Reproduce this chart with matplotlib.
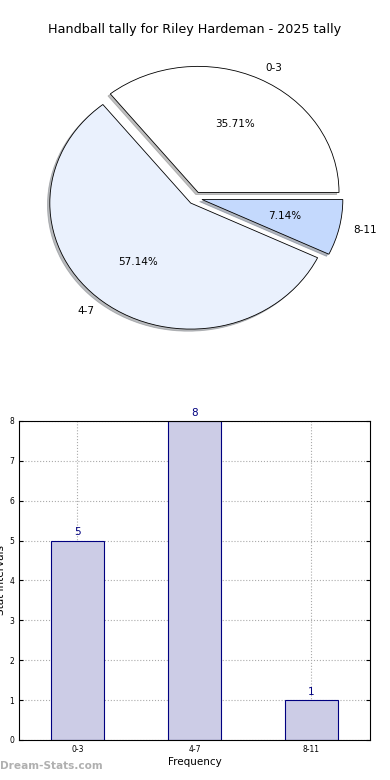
import matplotlib
matplotlib.use("Agg")
import matplotlib.pyplot as plt

# data
labels = ["0-3", "4-7", "8-11"]
counts = [5, 8, 1]
pie_colors = ["#ffffff", "#eaf1fd", "#c4d9fd"]

fig = plt.figure(figsize=(3.9, 7.8), dpi=100)

# ── pie ──
ax1 = fig.add_axes([0.0487, 0.544, 0.903, 0.404])
ax1.pie(counts, labels=labels, colors=pie_colors, autopct="%.2f%%",
        startangle=0, explode=[0.05] * len(counts),
        shadow={"ox": -0.012, "oy": -0.012, "shade": 0.5},
        wedgeprops={"edgecolor": "black", "linewidth": 0.6},
        textprops={"fontsize": 7.5})
ax1.set_aspect("auto")
ax1.set_xlim(-1.25, 1.25)
ax1.set_ylim(-1.25, 1.25)
fig.text(0.5, 0.962, "Handball tally for Riley Hardeman - 2025 tally",
         ha="center", va="center", fontsize=9.2)

# ── bars ──
ax2 = fig.add_axes([0.0487, 0.0513, 0.9, 0.409])
x = range(len(labels))
ax2.bar(x, counts, width=0.45, color="#ccccE6", edgecolor="navy",
        linewidth=0.8, zorder=2)
for xi, c in zip(x, counts):
    ax2.text(xi, c + 0.08, str(c), ha="center", va="bottom",
             color="navy", fontsize=7.5)
ax2.set_xlim(-0.5, 2.5)
ax2.set_ylim(0, 8)
ax2.set_xticks(list(x))
ax2.set_xticklabels(labels)
ax2.set_yticks(range(0, 9))
ax2.tick_params(labelsize=5.5, direction="in", length=3, right=True, top=False)
ax2.grid(True, linestyle=":", color="#aaaaaa", linewidth=0.8, zorder=0)
ax2.set_axisbelow(True)
ax2.set_xlabel("Frequency", fontsize=7.5, labelpad=2)
ax2.set_ylabel("Stat Intervals", fontsize=7.5, labelpad=2)

fig.text(0.0, 0.012, "Dream-Stats.com", color="#b0b0b0", fontsize=7.6,
         fontweight="bold", ha="left", va="bottom")

fig.savefig("out.png", dpi=100)
